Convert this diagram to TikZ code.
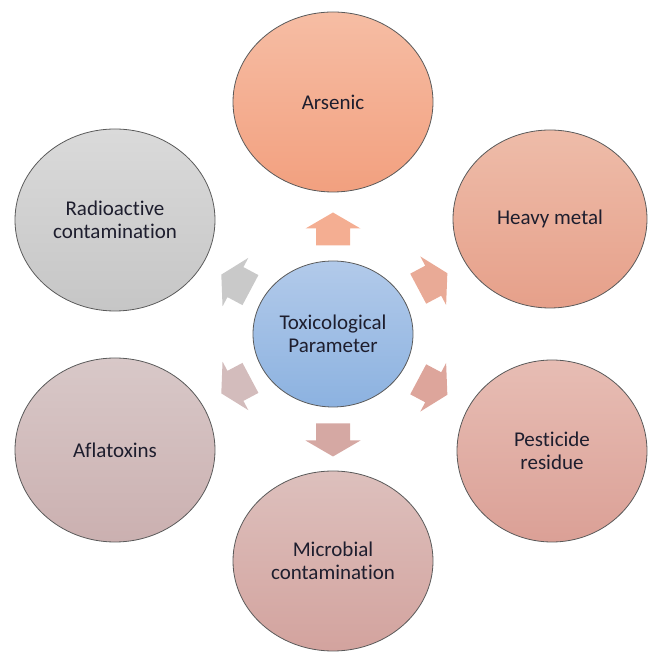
\documentclass[tikz,border=0pt]{standalone}
\usepackage{fontspec}
\setmainfont{Carlito}[Ligatures={NoCommon}]
\usetikzlibrary{shapes.geometric,calc}

% fill colours: top / bottom of each gradient
\definecolor{ctrT}{HTML}{B2CAEA}\definecolor{ctrB}{HTML}{8CB2E0}
\definecolor{arsT}{HTML}{F6BDA4}\definecolor{arsB}{HTML}{F2A07F}
\definecolor{hvyT}{HTML}{EEBCA9}\definecolor{hvyB}{HTML}{E6A08A}
\definecolor{pesT}{HTML}{E7BDB4}\definecolor{pesB}{HTML}{DBA096}
\definecolor{micT}{HTML}{DDC0BD}\definecolor{micB}{HTML}{D3A39E}
\definecolor{aflT}{HTML}{D8C8C8}\definecolor{aflB}{HTML}{CBB0B0}
\definecolor{radT}{HTML}{DADADA}\definecolor{radB}{HTML}{C6C6C6}
\definecolor{rim}{HTML}{5A5A5A}
\definecolor{ink}{HTML}{1E1E2E}

\tikzset{
  bubble/.style={ellipse, draw=rim, line width=0.8pt, text=ink,
    align=center, inner sep=0pt,
    font=\fontsize{21}{23}\selectfont},
  blockarrow/.style={draw=none}
}

% block arrow centred at #1, pointing at angle #2, filled with colour #3
\newcommand{\blockarr}[3]{%
  \fill[blockarrow, #3, shift={(#1)}, rotate=#2]
    (-16.5,-17) -- (0.5,-17) -- (0.5,-27.5) -- (16.5,0)
    -- (0.5,27.5) -- (0.5,17) -- (-16.5,17) -- cycle;}

\begin{document}
\begin{tikzpicture}[x=1pt,y=1pt]
\useasboundingbox (0,0) rectangle (648,653);

% hub
\node[bubble, minimum width=160pt, minimum height=146pt,
      top color=ctrT, bottom color=ctrB] (ctr) at (333,319)
      {Toxicological\\Parameter};

% surrounding parameters
\node[bubble, minimum width=200pt, minimum height=180pt,
      top color=arsT, bottom color=arsB] (ars) at (333,551) {Arsenic};
\node[bubble, minimum width=194pt, minimum height=178pt,
      top color=hvyT, bottom color=hvyB] (hvy) at (550,434) {Heavy metal};
\node[bubble, minimum width=190pt, minimum height=182pt,
      top color=pesT, bottom color=pesB] (pes) at (552,202) {Pesticide\\residue};
\node[bubble, minimum width=200pt, minimum height=180pt,
      top color=micT, bottom color=micB] (mic) at (333,92) {Microbial\\contamination};
\node[bubble, minimum width=200pt, minimum height=184pt,
      top color=aflT, bottom color=aflB] (afl) at (115,203) {Aflatoxins};
\node[bubble, minimum width=200pt, minimum height=182pt,
      top color=radT, bottom color=radB] (rad) at (115,433) {Radioactive\\contamination};

% arrow positions around the hub
\coordinate (aArs) at ($(ctr)+(90:105)$);
\coordinate (aHvy) at ($(ctr)+(28:113)$);
\coordinate (aPes) at ($(ctr)+(-28:113)$);
\coordinate (aMic) at ($(ctr)+(-90:106)$);
\coordinate (aAfl) at ($(ctr)+(208:110)$);
\coordinate (aRad) at ($(ctr)+(152:110)$);

\blockarr{aArs}{90}{arsB!85!white}
\blockarr{aHvy}{28}{hvyB!90!white}
\blockarr{aPes}{-28}{pesB!95!white}
\blockarr{aMic}{-90}{micB!95!white}
\blockarr{aAfl}{208}{aflB!85!white}
\blockarr{aRad}{152}{radB!95!white}
\end{tikzpicture}
\end{document}
